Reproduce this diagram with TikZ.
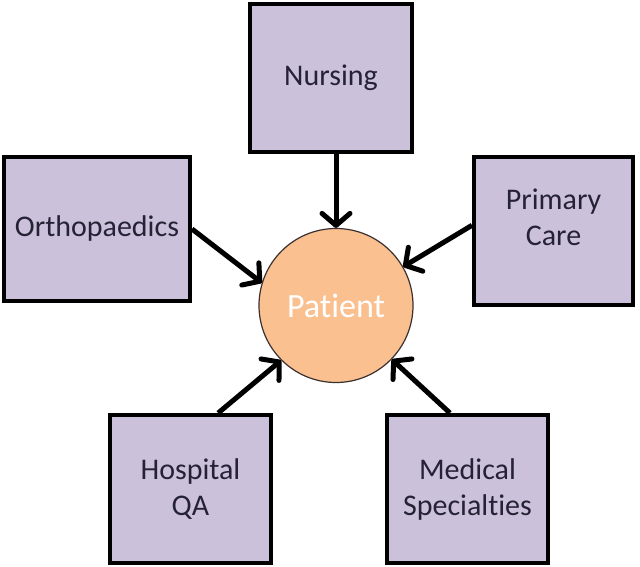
\documentclass[tikz,border=0pt]{standalone}
\usepackage{fontspec}
\setmainfont{Carlito}[Ligatures=NoCommon]
\usetikzlibrary{arrows.meta}
\definecolor{boxfill}{HTML}{CCC1DA}
\definecolor{boxtext}{HTML}{262236}
\definecolor{patfill}{HTML}{FAC090}
\definecolor{patline}{HTML}{3A3030}
\begin{document}
\begin{tikzpicture}[x=1pt,y=-1pt,
  unitbox/.style={draw=black,line width=4pt,fill=boxfill,text=boxtext,
    align=center,inner sep=0pt,font=\fontsize{30}{36}\selectfont},
  patientnode/.style={circle,draw=patline,line width=1.2pt,fill=patfill,
    text=white,minimum size=154pt,inner sep=0pt,font=\fontsize{34}{38}\selectfont},
  link/.style={line width=5pt,-{Straight Barb[length=12pt,width=28pt,line width=5pt,round]}}]
\useasboundingbox (0,0) rectangle (640,567);
\node[patientnode] (patient) at (336,305.5) {Patient};
\node[unitbox,minimum width=162pt,minimum height=148pt] (nursing) at (331,78) {Nursing};
\node[unitbox,minimum width=186pt,minimum height=144pt] (ortho) at (97,229) {Orthopaedics};
\node[unitbox,minimum width=159pt,minimum height=148pt,
  label={[text=boxtext,align=center,font=\fontsize{30}{36}\selectfont,yshift=14pt]center:Primary\\Care}] (primary) at (553.5,231) {};
\node[unitbox,minimum width=161pt,minimum height=148pt] (hospital) at (190.5,489) {Hospital\\QA};
\node[unitbox,minimum width=161pt,minimum height=148pt] (medical) at (467.5,489) {Medical\\Specialties};
\draw[link] (nursing.south -| patient.north) -- (patient.north);
\draw[link] (ortho.east) -- (patient.163);
\draw[link] (primary.176) -- (patient.30);
\draw[link] (hospital.70) -- (patient.225);
\draw[link] (medical.103) -- (patient.316);
\end{tikzpicture}
\end{document}
